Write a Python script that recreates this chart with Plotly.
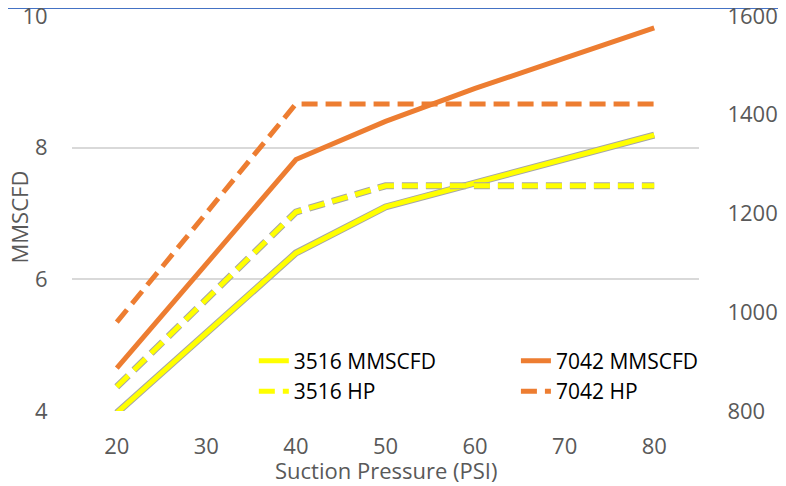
import plotly.graph_objects as go

pressure = [20, 30, 40, 50, 60, 70, 80]
mmscfd_3516 = [3.97, 5.18, 6.40, 7.10, 7.46, 7.83, 8.19]
mmscfd_7042 = [4.65, 6.23, 7.82, 8.40, 8.90, 9.36, 9.82]
hp_3516 = [849, 1026, 1203, 1256, 1256, 1256, 1256]
hp_7042 = [980, 1200, 1422, 1422, 1422, 1422, 1422]

YELLOW = "#FFFF00"
ORANGE = "#ED7D31"
SHADOW = "#A6A6A6"
FONT = "Open Sans"
DASH = "16px,8px"

fig = go.Figure()

# shadows for yellow lines
fig.add_trace(go.Scatter(x=pressure, y=mmscfd_3516, mode="lines", showlegend=False,
                         line=dict(color=SHADOW, width=7), hoverinfo="skip"))
fig.add_trace(go.Scatter(x=pressure, y=hp_3516, mode="lines", showlegend=False, yaxis="y2",
                         line=dict(color=SHADOW, width=7, dash=DASH), hoverinfo="skip"))

fig.add_trace(go.Scatter(x=pressure, y=mmscfd_3516, mode="lines", name="3516 MMSCFD",
                         line=dict(color=YELLOW, width=5), legend="legend"))
fig.add_trace(go.Scatter(x=pressure, y=hp_3516, mode="lines", name="3516 HP", yaxis="y2",
                         line=dict(color=YELLOW, width=5, dash=DASH), legend="legend"))
fig.add_trace(go.Scatter(x=pressure, y=mmscfd_7042, mode="lines", name="7042 MMSCFD",
                         line=dict(color=ORANGE, width=5), legend="legend2"))
fig.add_trace(go.Scatter(x=pressure, y=hp_7042, mode="lines", name="7042 HP", yaxis="y2",
                         line=dict(color=ORANGE, width=5, dash=DASH), legend="legend2"))

tickfont = dict(family=FONT, size=22, color="#595959")
titlefont = dict(family=FONT, size=22, color="#595959")
legfont = dict(family=FONT, size=21, color="#000000")

# page has an 8px body margin; figure is sized so the plot area matches the reference
fig.update_layout(
    width=778, height=478,
    margin=dict(l=64, r=87, t=8, b=75, autoexpand=False),
    paper_bgcolor="white", plot_bgcolor="white",
    font=dict(family=FONT),
    xaxis=dict(range=[15, 85], tickvals=pressure, ticktext=[str(p) for p in pressure],
               tickfont=tickfont, showgrid=False, zeroline=False, showline=False, automargin=False,
               ticks="outside", ticklen=16, tickcolor="rgba(0,0,0,0)", ticklabeloverflow="allow"),
    yaxis=dict(range=[4, 10], tickvals=[4, 6, 8, 10], tickfont=tickfont, automargin=False,
               showgrid=True, gridcolor="#D9D9D9", gridwidth=1.5, zeroline=False, showline=False,
               ticks="outside", ticklen=19, tickcolor="rgba(0,0,0,0)", ticklabeloverflow="allow"),
    yaxis2=dict(range=[800, 1600], tickvals=[800, 1000, 1200, 1400, 1600], tickfont=tickfont,
                overlaying="y", side="right", showgrid=False, zeroline=False, showline=False,
                automargin=False, ticklabeloverflow="allow",
                ticks="outside", ticklen=23, tickcolor="rgba(0,0,0,0)"),
    legend=dict(x=0.29, y=0.178, xanchor="left", yanchor="top", orientation="v",
                font=legfont, bgcolor="rgba(0,0,0,0)", tracegroupgap=0, itemwidth=30),
    legend2=dict(x=0.708, y=0.178, xanchor="left", yanchor="top", orientation="v",
                 font=legfont, bgcolor="rgba(0,0,0,0)", tracegroupgap=0, itemwidth=30),
    showlegend=True,
    annotations=[
        dict(text="Suction Pressure (PSI)", xref="paper", yref="paper",
             x=0.5, y=-59 / 395, xanchor="center", yanchor="middle",
             showarrow=False, font=titlefont),
        dict(text="MMSCFD", xref="paper", yref="paper", textangle=-90,
             x=-53 / 627, y=0.49, xanchor="center", yanchor="middle",
             showarrow=False, font=titlefont),
    ],
    shapes=[dict(type="line", xref="paper", yref="paper", x0=-0.2, x1=1.2, layer="below",
                 y0=1 + 7.5 / 395, y1=1 + 7.5 / 395, line=dict(color="#4472C4", width=1.2))],
)

fig.write_html("out.html")
